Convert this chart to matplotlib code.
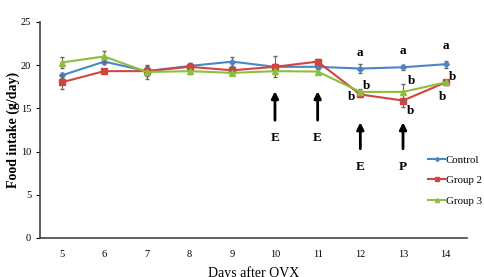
import numpy as np
import matplotlib
matplotlib.use('Agg')
import matplotlib.pyplot as plt
from matplotlib.lines import Line2D

plt.rcParams['font.family'] = ['Liberation Serif', 'DejaVu Serif']

# -------- data --------
days = [5, 6, 7, 8, 9, 10, 11, 12, 13, 14]
control = [18.8, 20.4, 19.3, 19.9, 20.4, 19.8, 19.8, 19.6, 19.75, 20.1]
group2 = [18.0, 19.3, 19.3, 19.8, 19.4, 19.8, 20.4, 16.6, 15.9, 18.0]
group3 = [20.3, 21.0, 19.2, 19.3, 19.1, 19.3, 19.25, 16.9, 16.9, 18.0]
control_err = [0.3, 0.3, 0.5, 0.4, 0.5, 0.3, 0.3, 0.5, 0.3, 0.4]
group2_err = [0.8, 0.2, 0.6, 0.5, 0.3, 1.2, 0.3, 0.3, 0.7, 0.2]
group3_err = [0.6, 0.6, 0.8, 0.3, 0.3, 0.3, 0.3, 0.3, 0.9, 0.3]

arrow_days = [10, 11, 12, 13]
arrow_labels = ['E', 'E', 'E', 'P']
arrow_top = [17.3, 17.3, 13.7, 13.7]
arrow_bottom = [13.3, 13.3, 10.0, 10.0]

a_days = [12, 13, 14]
a_vals = [21.4, 21.6, 22.2]
b_labels = [(12.15, 17.6), (11.8, 16.3), (13.19, 18.2), (13.17, 14.7), (14.17, 18.6), (13.93, 16.3)]

names = ['Control', 'Group 2', 'Group 3']
colors = ['#4a86c8', '#d0453f', '#8cbf3f']
markers = ['D', 's', '^']
msizes = [3, 4, 4]

# -------- plot --------
fig = plt.figure(figsize=(4.84, 2.77), dpi=100)
ax = fig.add_axes([0.083, 0.141, 0.882, 0.780])

for vals, err, c, m, ms, z in zip([control, group2, group3], [control_err, group2_err, group3_err],
                                  colors, markers, msizes, [3, 4, 5]):
    ax.errorbar(days, vals, yerr=err, color=c, marker=m, markersize=ms,
                lw=1.5, capsize=1.5, elinewidth=0.8, ecolor='#666666', zorder=z)

for d, lab, t, b in zip(arrow_days, arrow_labels, arrow_top, arrow_bottom):
    ax.annotate('', xy=(d, t), xytext=(d, b),
                arrowprops=dict(arrowstyle='-|>', color='black', lw=2.0, mutation_scale=10))
    ax.text(d, b - 1.75, lab, ha='center', va='center', fontsize=9.5, fontweight='bold')

for d, v in zip(a_days, a_vals):
    ax.text(d, v, 'a', ha='center', va='center', fontsize=9.5, fontweight='bold')
for x, y in b_labels:
    ax.text(x, y, 'b', ha='center', va='center', fontsize=9.5, fontweight='bold')

ax.set_xlim(4.5, 14.5)
ax.set_ylim(0, 25)
ax.set_xticks(days)
ax.set_yticks([0, 5, 10, 15, 20, 25])
ax.tick_params(axis='x', length=0, labelsize=7.5, pad=9)
ax.tick_params(axis='y', length=3, labelsize=7.5, direction='out')
for s in ['top', 'right']:
    ax.spines[s].set_visible(False)
for s in ['left', 'bottom']:
    ax.spines[s].set_color('#444444')
    ax.spines[s].set_linewidth(1.2)

ax.set_ylabel('Food intake (g/day)', fontsize=10, fontweight='bold')
ax.yaxis.set_label_coords(-0.048, 0.5)
ax.set_xlabel('Days after OVX', fontsize=10)
ax.xaxis.set_label_coords(0.5, -0.13)

handles = [Line2D([], [], color=c, marker=m, markersize=ms - 1, lw=1.5)
           for c, m, ms in zip(colors, markers, msizes)]
ax.legend(handles, names, loc='lower right', bbox_to_anchor=(1.035, 0.15), frameon=False,
          borderaxespad=0, borderpad=0, fontsize=7.8, handlelength=1.6, handletextpad=0.05,
          labelspacing=1.0)

fig.savefig('out.png', dpi=100)
